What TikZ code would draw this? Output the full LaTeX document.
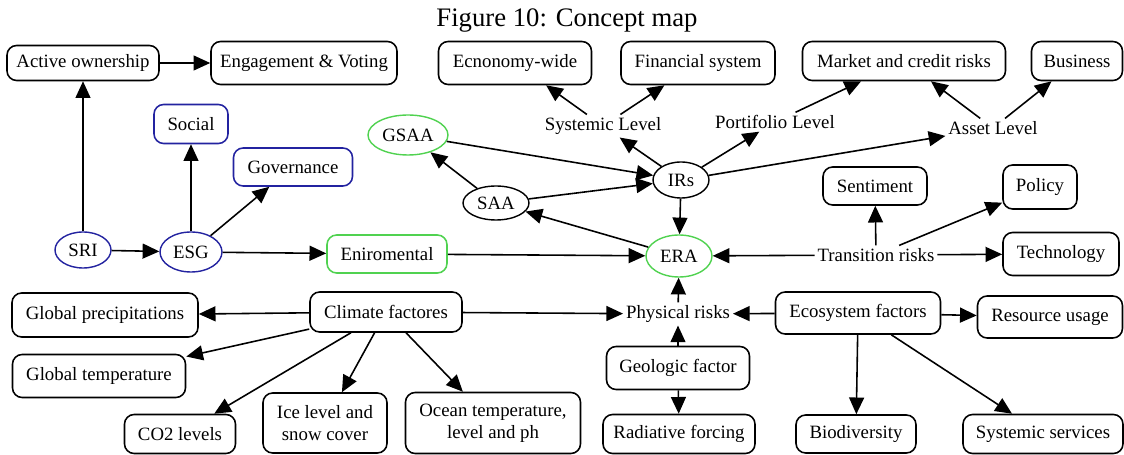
\documentclass[tikz,border=0pt]{standalone}
\usepackage{fontspec}
\setmainfont{Liberation Serif}
\usetikzlibrary{shapes.geometric,arrows.meta}
\definecolor{bblue}{RGB}{35,35,160}
\definecolor{ggreen}{RGB}{80,210,80}
\newcommand\fs{\fontsize{10.7}{12.5}\selectfont}
\tikzset{
  box/.style={draw, rounded corners=5.5pt, line width=0.9pt, inner sep=0pt, align=center, font=\fs},
  bbox/.style={box, draw=bblue},
  gbox/.style={box, draw=ggreen},
  ell/.style={ellipse, draw, line width=0.8pt, inner sep=0pt, font=\fs},
  bell/.style={ell, draw=bblue},
  gell/.style={ell, draw=ggreen},
  lbl/.style={inner sep=1.5pt, font=\fs},
  arr/.style={-{Triangle[length=9.5pt,width=8.5pt]}, line width=0.9pt},
}
\begin{document}
\begin{tikzpicture}[x=0.02cm, y=-0.02cm]
\useasboundingbox (0,0) rectangle (1124,455);
\node[font=\fontsize{15.2}{17}\selectfont] (title) at (567,21) {Figure 10: Concept map};
% top row
\node[box, minimum width=152*0.02cm, minimum height=35*0.02cm] (act) at (83,63) {Active ownership};
\node[box, minimum width=186*0.02cm, minimum height=43*0.02cm] (eng) at (304,63) {Engagement \& Voting};
\node[box, minimum width=153*0.02cm, minimum height=43*0.02cm] (eco) at (515,63) {Ecnonomy-wide};
\node[box, minimum width=154*0.02cm, minimum height=43*0.02cm] (fin) at (698,63) {Financial system};
\node[box, minimum width=203*0.02cm, minimum height=39*0.02cm] (mkt) at (904,61) {Market and credit risks};
\node[box, minimum width=91*0.02cm, minimum height=39*0.02cm] (bus) at (1077,61) {Business};
% level labels
\node[lbl] (sys) at (603,126) {Systemic Level};
\node[lbl] (port) at (775,122) {Portifolio Level};
\node[lbl] (asset) at (993,128) {Asset Level};
% ESG side
\node[bbox, minimum width=74*0.02cm, minimum height=39*0.02cm] (soc) at (191,124) {Social};
\node[bbox, minimum width=119*0.02cm, minimum height=38*0.02cm] (gov) at (293,167) {Governance};
\node[bell, minimum width=56*0.02cm, minimum height=36*0.02cm] (sri) at (83,250) {SRI};
\node[bell, minimum width=62*0.02cm, minimum height=40*0.02cm] (esg) at (191,252) {ESG};
\node[gbox, minimum width=120*0.02cm, minimum height=38*0.02cm] (env) at (387,254) {Eniromental};
% center
\node[gell, minimum width=80*0.02cm, minimum height=40*0.02cm] (gsaa) at (408,135) {GSAA};
\node[ell, minimum width=66*0.02cm, minimum height=34*0.02cm] (saa) at (496,203) {SAA};
\node[ell, minimum width=56*0.02cm, minimum height=36*0.02cm] (irs) at (681,180) {IRs};
\node[gell, minimum width=66*0.02cm, minimum height=42*0.02cm] (era) at (679,256) {ERA};
% transition
\node[lbl] (trans) at (876,255) {Transition risks};
\node[box, minimum width=104*0.02cm, minimum height=38*0.02cm] (sent) at (875,186) {Sentiment};
\node[box, minimum width=74*0.02cm, minimum height=44*0.02cm] (pol) at (1040,187) {Policy};
\node[box, minimum width=116*0.02cm, minimum height=43*0.02cm] (tech) at (1061,254) {Technology};
% physical
\node[lbl] (phys) at (678,314) {Physical risks};
\node[box, minimum width=152*0.02cm, minimum height=40*0.02cm] (clim) at (386,312) {Climate factores};
\node[box, minimum width=186*0.02cm, minimum height=44*0.02cm] (gprec) at (105,315) {Global precipitations};
\node[box, minimum width=173*0.02cm, minimum height=43*0.02cm] (gtemp) at (99,376) {Global temperature};
\node[box, minimum width=111*0.02cm, minimum height=39*0.02cm] (co2) at (180,434) {CO2 levels};
\node[box, minimum width=124*0.02cm, minimum height=60*0.02cm] (ice) at (325,423) {Ice level and\\snow cover};
\node[box, minimum width=175*0.02cm, minimum height=61*0.02cm] (ocean) at (493,423) {Ocean temperature,\\level and ph};
\node[box, minimum width=143*0.02cm, minimum height=43*0.02cm] (geo) at (678,368) {Geologic factor};
\node[box, minimum width=152*0.02cm, minimum height=39*0.02cm] (rad) at (679,434) {Radiative forcing};
\node[box, minimum width=165*0.02cm, minimum height=42*0.02cm] (ecosys) at (858,313) {Ecosystem factors};
\node[box, minimum width=145*0.02cm, minimum height=42*0.02cm] (res) at (1050,317) {Resource usage};
\node[box, minimum width=120*0.02cm, minimum height=38*0.02cm] (bio) at (856,434) {Biodiversity};
\node[box, minimum width=160*0.02cm, minimum height=39*0.02cm] (syss) at (1043,434) {Systemic services};
% edges
\draw[arr] (act) -- (eng);
\draw[arr] (sri) -- (act);
\draw[arr] (sri) -- (esg);
\draw[arr] (esg) -- (soc);
\draw[arr] (esg) -- (gov);
\draw[arr] (esg) -- (env);
\draw[arr] (env) -- (era);
\draw[arr] (gsaa) -- (irs);
\draw[arr] (saa) -- (gsaa);
\draw[arr] (saa) -- (irs);
\draw[arr] (era) -- (saa);
\draw[arr] (irs) -- (era);
\draw[arr] (irs) -- (sys);
\draw[arr] (irs) -- (port);
\draw[arr] (irs) -- (asset);
\draw[arr] (sys) -- (eco);
\draw[arr] (sys) -- (fin);
\draw[arr] (port) -- (mkt);
\draw[arr] (asset) -- (mkt);
\draw[arr] (asset) -- (bus);
\draw[arr] (trans) -- (era);
\draw[arr] (trans) -- (sent);
\draw[arr] (trans) -- (pol);
\draw[arr] (trans) -- (tech);
\draw[arr] (phys) -- (era);
\draw[arr] (clim) -- (phys);
\draw[arr] (ecosys) -- (phys);
\draw[arr] (geo) -- (phys);
\draw[arr] (geo) -- (rad);
\draw[arr] (clim) -- (gprec);
\draw[arr] (clim) -- (gtemp);
\draw[arr] (clim) -- (co2);
\draw[arr] (clim) -- (ice);
\draw[arr] (clim) -- (ocean);
\draw[arr] (ecosys) -- (res);
\draw[arr] (ecosys) -- (bio);
\draw[arr] (ecosys) -- (syss);
\end{tikzpicture}
\end{document}
